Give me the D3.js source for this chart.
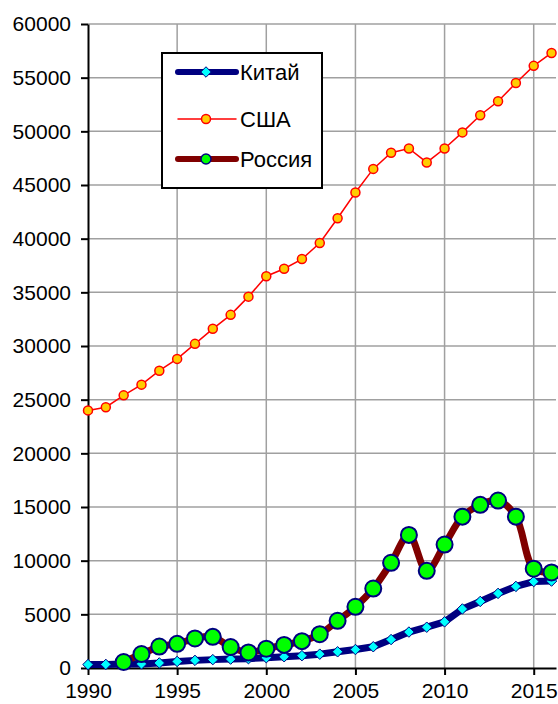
<!DOCTYPE html>
<html>
<head>
<meta charset="utf-8">
<script src="https://cdn.jsdelivr.net/npm/d3@7"></script>
<style>
  body { margin: 0; background: #fff; }
  svg { display: block; font-family: "Liberation Sans", Arial, sans-serif; }
</style>
</head>
<body>
<svg id="chart"></svg>
<script>
const width = 558;
const height = 704;
const margin = { top: 24, right: 2, bottom: 36, left: 88 };

// data
const years = d3.range(1990, 2017);
const china = [320, 335, 365, 380, 470, 610, 710, 780, 830, 870, 960, 1050, 1150, 1290, 1510, 1720, 1980, 2650, 3350, 3800, 4300, 5500, 6200, 6950, 7600, 8050, 8100];
const usa = [24000, 24300, 25400, 26400, 27700, 28800, 30200, 31600, 32900, 34600, 36500, 37200, 38100, 39600, 41900, 44300, 46500, 48000, 48400, 47100, 48400, 49900, 51500, 52800, 54500, 56100, 57300];
const russiaYears = d3.range(1992, 2017);
const russia = [560, 1300, 2000, 2250, 2750, 2900, 1950, 1450, 1800, 2150, 2500, 3150, 4400, 5700, 7400, 9800, 12400, 9050, 11500, 14100, 15200, 15600, 14100, 9250, 8900];
const xTicks = [1990, 1995, 2000, 2005, 2010, 2015];
const yTicks = d3.range(0, 60001, 5000);
const legendNames = ["Китай", "США", "Россия"];

const svg = d3.select("#chart")
  .attr("width", width)
  .attr("height", height);

const x = d3.scaleLinear()
  .domain([1990, 2016.25])
  .range([margin.left, width - margin.right]);

const y = d3.scaleLinear()
  .domain([0, 60000])
  .range([height - margin.bottom, margin.top]);

// grid
svg.append("g")
  .selectAll("line")
  .data(yTicks.slice(1))
  .enter()
  .append("line")
  .attr("x1", margin.left)
  .attr("x2", width - margin.right)
  .attr("y1", d => y(d))
  .attr("y2", d => y(d))
  .attr("stroke", "#a0a0a0")
  .attr("stroke-width", 1.5);

svg.append("g")
  .selectAll("line")
  .data(xTicks.slice(1))
  .enter()
  .append("line")
  .attr("x1", d => x(d))
  .attr("x2", d => x(d))
  .attr("y1", margin.top)
  .attr("y2", height - margin.bottom)
  .attr("stroke", "#a0a0a0")
  .attr("stroke-width", 1.5);

// axes
const xAxis = d3.axisBottom(x).tickValues(xTicks).tickFormat(d3.format("d")).tickSizeInner(7).tickSizeOuter(0).tickPadding(8);
const yAxis = d3.axisLeft(y).tickValues(yTicks).tickFormat(d3.format("d")).tickSizeInner(7).tickSizeOuter(0).tickPadding(10);

const gx = svg.append("g")
  .attr("transform", "translate(0," + (height - margin.bottom) + ")")
  .call(xAxis);
const gy = svg.append("g")
  .attr("transform", "translate(" + margin.left + ",0)")
  .call(yAxis);

[gx, gy].forEach(g => {
  g.attr("font-size", 21).attr("font-family", "'Liberation Sans', Arial, sans-serif");
  g.select(".domain").attr("stroke", "#000").attr("stroke-width", 2);
  g.selectAll(".tick line").attr("stroke", "#000").attr("stroke-width", 2);
  g.selectAll(".tick text").attr("fill", "#000");
});

const line = d3.line().x(d => x(d[0])).y(d => y(d[1]));
const diamond = d3.symbol().type(d3.symbolDiamond2).size(70);

// China
const chinaData = years.map((yr, i) => [yr, china[i]]);
svg.append("path")
  .datum(chinaData)
  .attr("d", line)
  .attr("fill", "none")
  .attr("stroke", "#000080")
  .attr("stroke-width", 7)
  .attr("stroke-linejoin", "round");
svg.append("g")
  .selectAll("path")
  .data(chinaData)
  .enter()
  .append("path")
  .attr("d", diamond)
  .attr("transform", d => "translate(" + x(d[0]) + "," + y(d[1]) + ")")
  .attr("fill", "#00ffff")
  .attr("stroke", "#000080")
  .attr("stroke-width", 1);

// Russia
const russiaData = russiaYears.map((yr, i) => [yr, russia[i]]);
svg.append("path")
  .datum(russiaData)
  .attr("d", line.curve(d3.curveCatmullRom.alpha(0.5)))
  .attr("fill", "none")
  .attr("stroke", "#800000")
  .attr("stroke-width", 7)
  .attr("stroke-linejoin", "round");
line.curve(d3.curveLinear);
svg.append("g")
  .selectAll("circle")
  .data(russiaData)
  .enter()
  .append("circle")
  .attr("cx", d => x(d[0]))
  .attr("cy", d => y(d[1]))
  .attr("r", 8)
  .attr("fill", "#00ff00")
  .attr("stroke", "#000080")
  .attr("stroke-width", 2);

// USA
const usaData = years.map((yr, i) => [yr, usa[i]]);
svg.append("path")
  .datum(usaData)
  .attr("d", line)
  .attr("fill", "none")
  .attr("stroke", "#ff0000")
  .attr("stroke-width", 1.5);
svg.append("g")
  .selectAll("circle")
  .data(usaData)
  .enter()
  .append("circle")
  .attr("cx", d => x(d[0]))
  .attr("cy", d => y(d[1]))
  .attr("r", 4.5)
  .attr("fill", "#ffcc00")
  .attr("stroke", "#ff0000")
  .attr("stroke-width", 1.5);

// legend
const legend = svg.append("g").attr("transform", "translate(162,53)");
legend.append("rect")
  .attr("width", 160)
  .attr("height", 135)
  .attr("fill", "#fff")
  .attr("stroke", "#000")
  .attr("stroke-width", 2);

const rows = legend.selectAll("g.row")
  .data(legendNames)
  .enter()
  .append("g")
  .attr("class", "row")
  .attr("transform", (d, i) => "translate(0," + [19, 66, 106][i] + ")");

rows.append("line")
  .attr("x1", 16)
  .attr("x2", 74)
  .attr("stroke", (d, i) => ["#000080", "#ff0000", "#800000"][i])
  .attr("stroke-width", (d, i) => [6, 1.5, 6][i])
  .attr("stroke-linecap", "round");

rows.filter((d, i) => i === 0).append("path")
  .attr("d", diamond)
  .attr("transform", "translate(44,0)")
  .attr("fill", "#00ffff")
  .attr("stroke", "#000080");
rows.filter((d, i) => i === 1).append("circle")
  .attr("cx", 44).attr("r", 4.5)
  .attr("fill", "#ffcc00").attr("stroke", "#ff0000").attr("stroke-width", 1.5);
rows.filter((d, i) => i === 2).append("circle")
  .attr("cx", 44).attr("r", 5)
  .attr("fill", "#00ff00").attr("stroke", "#000080").attr("stroke-width", 1.5);

rows.append("text")
  .attr("x", 78)
  .attr("dy", "0.35em")
  .attr("font-size", 22)
  .text(d => d);
</script>
</body>
</html>
